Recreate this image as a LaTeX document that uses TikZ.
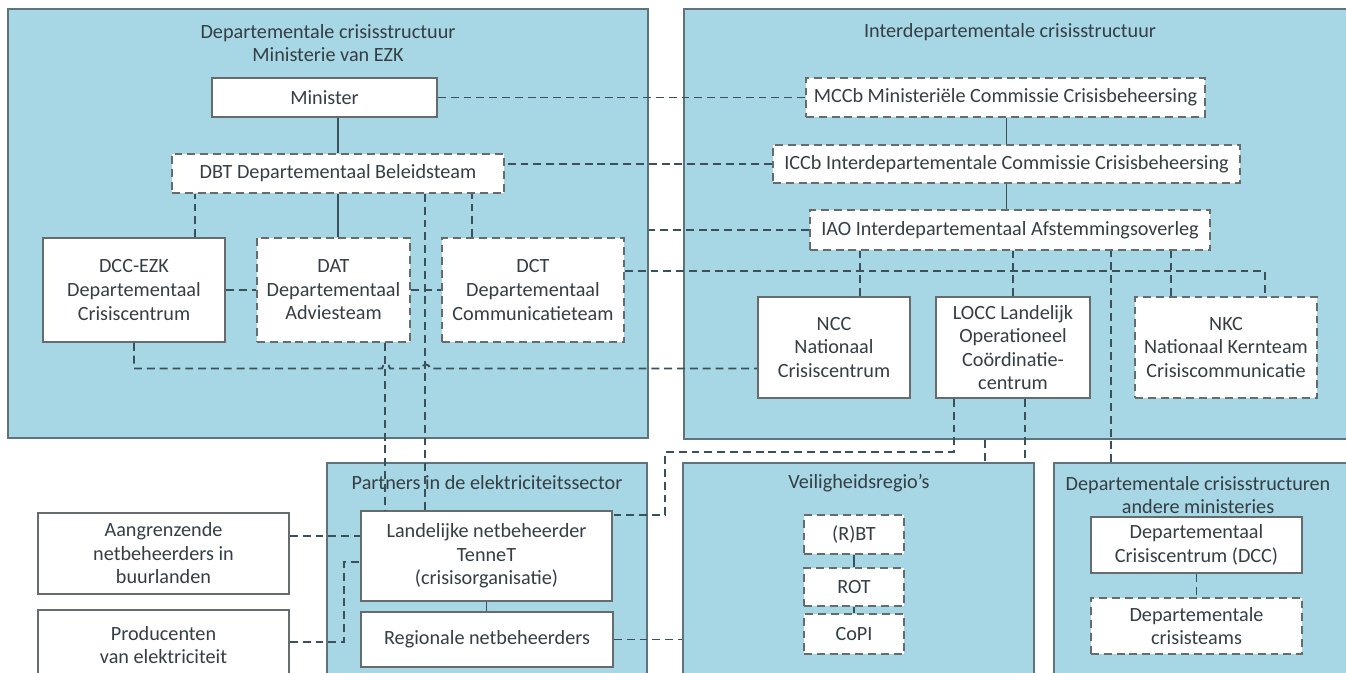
\documentclass[tikz,border=0pt]{standalone}
\usepackage{fontspec}
\setmainfont{Carlito}
\usetikzlibrary{calc}
\definecolor{panelblue}{HTML}{A7D6E4}
\definecolor{panelline}{HTML}{5E737C}
\definecolor{boxline}{HTML}{666B6E}
\definecolor{linkline}{HTML}{3A515B}
\definecolor{inktext}{HTML}{343E44}
\tikzset{
  sz/.style 2 args={minimum width=#1*0.02cm, minimum height=#2*0.02cm},
  panel/.style={draw=panelline, fill=panelblue, line width=0.9pt, inner sep=0pt},
  box/.style={draw=boxline, fill=white, line width=1pt, align=center, inner sep=1pt,
    text=inktext, font=\fontsize{11.5}{13.4}\selectfont},
  dbox/.style={box, dash pattern=on 4.5pt off 2.8pt},
  ptitle/.style={align=center, text=inktext, font=\fontsize{11.5}{13.4}\selectfont},
  link/.style={draw=linkline, line width=1.1pt},
  dlink/.style={link, dash pattern=on 4.5pt off 2.8pt}
}
\begin{document}
\begin{tikzpicture}[x=0.02cm, y=-0.02cm]
\useasboundingbox (0,0) rectangle (1346,673);
\clip (0,0) rectangle (1346,673);

\node[panel, sz={640}{429}] (pdep) at (328,223.5) {};
\node[panel, sz={696}{430}] (pinter) at (1032,224) {};
\node[panel, sz={320}{257}] (ppart) at (487,591.5) {};
\node[panel, sz={351}{257}] (pveil) at (858.5,591.5) {};
\node[panel, sz={326}{257}] (pand) at (1217,591.5) {};

\node[ptitle] (tdep) at (328,43) {Departementale crisisstructuur\\Ministerie van EZK};
\node[ptitle] (tinter) at (1010,32) {Interdepartementale crisisstructuur};
\node[ptitle] (tpart) at (487,483) {Partners in de elektriciteitssector};
\node[ptitle] (tveil) at (859,483) {Veiligheidsregio’s};
\node[ptitle] (tand) at (1198,495) {Departementale crisisstructuren\\andere ministeries};

\node[box, sz={225}{39}] (minister) at (324.5,97.5) {Minister};
\node[dbox, sz={332}{39}] (dbt) at (338,173.5) {DBT Departementaal Beleidsteam};
\node[box, sz={182}{104}] (dccezk) at (134,290) {DCC-EZK\\Departementaal\\Crisiscentrum};
\node[dbox, sz={153}{104}] (dat) at (333.5,290) {DAT\\Departementaal\\Adviesteam};
\node[dbox, sz={182}{104}] (dct) at (533,290) {DCT\\Departementaal\\Communicatieteam};

\node[dbox, sz={399}{39}] (mccb) at (1005.5,97.5) {MCCb Ministeriële Commissie Crisisbeheersing};
\node[dbox, sz={467}{38}] (iccb) at (1006.5,164) {ICCb Interdepartementale Commissie Crisisbeheersing};
\node[dbox, sz={400}{40}] (iao) at (1010,230) {IAO Interdepartementaal Afstemmingsoverleg};
\node[box, sz={152}{101}] (ncc) at (834,347.5) {NCC\\Nationaal\\Crisiscentrum};
\node[box, sz={154}{101}] (locc) at (1013,347.5) {LOCC Landelijk\\Operationeel\\Coördinatie-\\centrum};
\node[dbox, sz={182}{101}] (nkc) at (1226,347.5) {NKC\\Nationaal Kernteam\\Crisiscommunicatie};

\node[box, sz={251}{81}] (aangr) at (163.5,553.5) {Aangrenzende\\netbeheerders in\\buurlanden};
\node[box, sz={251}{70}] (prod) at (163.5,645) {Producenten\\van elektriciteit};
\node[box, sz={251}{90}] (tennet) at (486.5,556) {Landelijke netbeheerder\\TenneT\\(crisisorganisatie)};
\node[box, sz={252}{55}] (regio) at (487,639.5) {Regionale netbeheerders};

\node[dbox, sz={100}{39}] (rbt) at (854,534.5) {(R)BT};
\node[dbox, sz={100}{38}] (rot) at (854,587) {ROT};
\node[dbox, sz={100}{40}] (copi) at (854,634) {CoPI};

\node[box, sz={211}{56}] (dcc) at (1196.5,545) {Departementaal\\Crisiscentrum (DCC)};
\node[dbox, sz={211}{56}] (dteams) at (1196.5,626) {Departementale\\crisisteams};

\coordinate (dbtA) at ($(dccezk.north east)+(-31,0)$);
\coordinate (dbtB) at ($(dct.north west)+(31,0)$);
\coordinate (dbtC) at ($(tennet.north west)+(65,0)$);
\coordinate (datA) at ($(tennet.north west)+(25,0)$);
\coordinate (nccA) at ($(ncc.west)+(0,21)$);
\coordinate (nccB) at ($(ncc.north)+(26,0)$);
\coordinate (dctA) at ($(dct.north east)+(0,34)$);
\coordinate (nkcA) at ($(nkc.north east)+(-53,0)$);
\coordinate (nkcB) at ($(nkc.north west)+(37,0)$);
\coordinate (andA) at ($(pand.north west)+(58,0)$);
\coordinate (loccA) at ($(locc.south west)+(19,0)$);
\coordinate (loccB) at ($(locc.south east)+(-66,0)$);
\coordinate (interA) at ($(pinter.south west)+(302,0)$);
\coordinate (bendA) at (665,452);
\coordinate (tennetA) at ($(tennet.north east)+(0,5)$);
\coordinate (tennetB) at ($(tennet.north west)+(0,52)$);
\coordinate (aangrA) at ($(aangr.north east)+(0,24)$);
\coordinate (prodA) at ($(prod.north east)+(0,33)$);

\draw[link] (dbt.north) -- (dbt.north |- minister.south);
\draw[link] (dbt.south) -- (dbt.south |- dat.north);
\draw[link] (iccb.north) -- (iccb.north |- mccb.south);
\draw[link] (iccb.south) -- (iccb.south |- iao.north);
\draw[link] (tennet.south) -- (tennet.south |- regio.north);
\draw[link] (rbt) -- (rot);
\draw[link] (rot) -- (copi);

\draw[dlink] (minister.east) -- (minister.east -| mccb.west);
\draw[dlink] (iccb.west) -- (iccb.west -| dbt.east);
\draw[dlink] (iao.west) -- (iao.west -| pdep.east);
\draw[dlink] (dbtA) -- (dbtA |- dbt.south);
\draw[dlink] (dbtB) -- (dbtB |- dbt.south);
\draw[dlink] (dbt.south -| dbtC) -- (dbtC);
\draw[dlink] (dat.south -| datA) -- (datA);
\draw[dlink] (dccezk.east) -- (dat.west);
\draw[dlink] (dat.east) -- (dct.west);
\draw[dlink] (dccezk.south) |- (382,368.5) arc[start angle=180, end angle=360, radius=4]
  -- (422,368.5) arc[start angle=180, end angle=360, radius=4] -- (nccA);
\draw[dlink] (dctA) -| (nkcA);
\draw[dlink] (nccB) -- (nccB |- iao.south);
\draw[dlink] (locc.north) -- (locc.north |- iao.south);
\draw[dlink] (andA) -- (andA |- iao.south);
\draw[dlink] (nkcB) -- (nkcB |- iao.south);
\draw[dlink] (loccA) |- (bendA) |- (tennetA);
\draw[dlink] (loccB) -- (loccB |- pveil.north);
\draw[dlink] (interA) -- (interA |- pveil.north);
\draw[dlink] (aangrA) -- (aangrA -| tennet.west);
\draw[dlink] (prodA) -- ++(54,0) |- (tennetB);
\draw[dlink] (regio.east) -- (regio.east -| pveil.west);
\draw[dlink] (dcc) -- (dteams);
\end{tikzpicture}
\end{document}
